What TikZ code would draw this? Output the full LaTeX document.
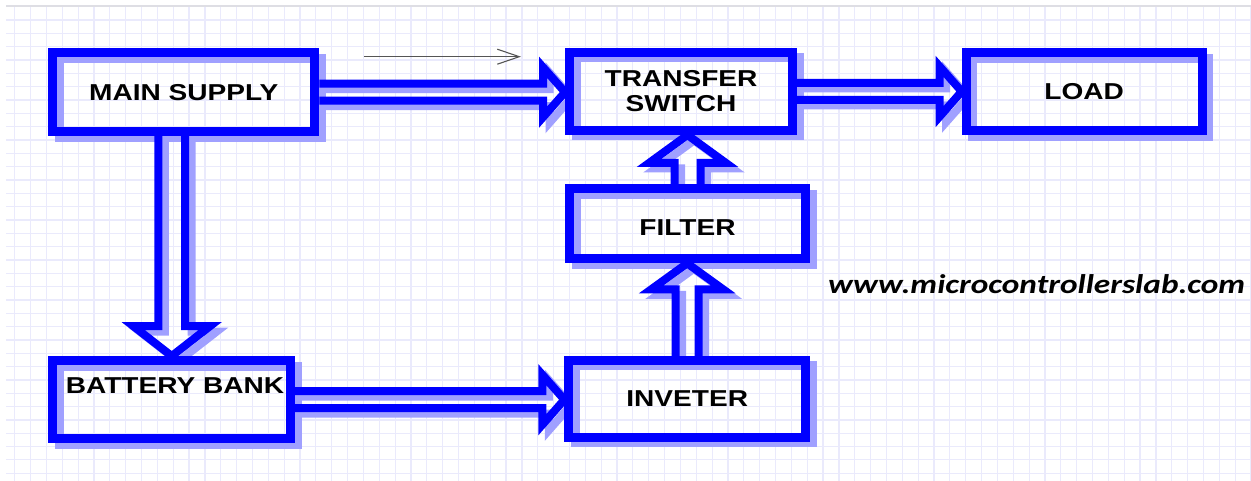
\documentclass[tikz,border=0pt]{standalone}
\usepackage{fontspec}
\usepackage{graphicx}
\setmainfont{Liberation Sans}
\newfontfamily\sitefont{Carlito}
\usetikzlibrary{calc,arrows.meta}

\pgfdeclarelayer{paper}
\pgfdeclarelayer{shade}
\pgfsetlayers{paper,shade,main}

\definecolor{boxblue}{RGB}{0,0,255}
\definecolor{shadeblue}{RGB}{160,160,255}
\definecolor{gridlav}{RGB}{234,234,252}
\definecolor{topgray}{RGB}{222,222,228}
\definecolor{hintgray}{RGB}{85,85,85}

\newcommand\labfont{\fontsize{23}{25}\selectfont\bfseries}
\newcommand\caps[1]{\scalebox{1.22}[1]{#1}}

\tikzset{
  block/.style={draw=boxblue, line width=9pt, inner sep=0pt, font=\labfont},
  textlab/.style={inner sep=0pt, font=\labfont},
  fatline/.style={draw=boxblue, line width=8pt, line join=miter, line cap=butt},
  boxshade/.style={draw=shadeblue, line width=9pt, transform canvas={xshift=6.5pt,yshift=-5.5pt}},
  gridrule/.style={draw=gridlav, line width=1.2pt},
  hintline/.style={draw=hintgray, line width=1.1pt, -{Straight Barb[length=22pt,width=15pt]}}
}

% hollow block arrow: outline of a shaft and a head, open at the tail
\newcommand\fatstroke[4]{%
  \draw[fatline,#4] ($(#1-s)!#2!90:(#1-e)$) -- ($(#1-b)!#2!90:(#1-e)$)
    -- ($(#1-b)!#3!90:(#1-e)$) -- (#1-e) -- ($(#1-b)!#3!-90:(#1-e)$)
    -- ($(#1-b)!#2!-90:(#1-e)$) -- ($(#1-s)!#2!-90:(#1-e)$);}
% #1 name, #2 from, #3 to, #4 shaft half width, #5 head half width, #6 head length
\newcommand\fatarrow[6]{%
  \coordinate (#1-s) at (#2);
  \coordinate (#1-e) at (#3);
  \coordinate (#1-b) at ($(#1-e)!#6!(#1-s)$);
  \begin{pgfonlayer}{shade}
    \fatstroke{#1}{#4}{#5}{draw=shadeblue,transform canvas={xshift=6.5pt,yshift=-5.5pt}}
  \end{pgfonlayer}
  \fatstroke{#1}{#4}{#5}{}}

\begin{document}
\begin{tikzpicture}[x=1pt,y=-1pt]
\useasboundingbox (0,0) rectangle (1251,481);

% graph paper
\begin{pgfonlayer}{paper}
  \fill[white] (0,0) rectangle (1251,481);
  \foreach \i in {0,...,78}
    \draw[gridrule] ({14.7+15.85*\i},6) -- ({14.7+15.85*\i},481);
  \foreach \j in {1,...,35}
    \draw[gridrule] (6,{6.67+13.33*\j}) -- (1251,{6.67+13.33*\j});
  \draw[draw=topgray, line width=2pt] (6,6) -- (1251,6);
\end{pgfonlayer}

% blocks
\node[block, minimum width=262pt, minimum height=78.7pt] (main) at (183.8,92.2) {\caps{MAIN SUPPLY}};
\node[block, minimum width=223pt, minimum height=78pt, align=center] (ts) at (681,91.5) {\caps{TRANSFER}\\\caps{SWITCH}};
\node[block, minimum width=236pt, minimum height=77.7pt] (load) at (1084.2,91.7) {\caps{LOAD}};
\node[block, minimum width=236pt, minimum height=70.3pt, text height=24.1pt] (filter) at (687.5,223.7) {\caps{FILTER}};
\node[block, minimum width=237.7pt, minimum height=78.3pt,
      label={[textlab, shift={(3.3,-14.2)}]center:\caps{BATTERY BANK}}] (bb) at (171.7,399.7) {};
\node[block, minimum width=236.7pt, minimum height=76.7pt] (inv) at (687.2,398.8) {\caps{INVETER}};

% block shadows
\begin{pgfonlayer}{shade}
  \foreach \n in {main,ts,load,filter,bb,inv}
    \draw[boxshade] ([shift={(4.5,4.5)}]\n.north west) rectangle ([shift={(-4.5,-4.5)}]\n.south east);
\end{pgfonlayer}

% connectors
\fatarrow{a1}{main.east}{main.east -| ts.west}{8.5pt}{25pt}{22pt}
\fatarrow{a2}{ts.east}{ts.east -| load.west}{8.5pt}{25pt}{22pt}
\fatarrow{a3}{main.south -| bb.north}{bb.north}{13.3pt}{38.5pt}{30pt}
\fatarrow{a4}{bb.east}{bb.east -| inv.west}{8.5pt}{25pt}{22pt}
\fatarrow{a5}{inv.north}{inv.north |- filter.south}{11.5pt}{36pt}{26pt}
\fatarrow{a6}{filter.north}{filter.north |- ts.south}{13pt}{38.5pt}{28pt}

% thin direction hint
\coordinate (hint-a) at (364,56.7);
\coordinate (hint-b) at (521,56.7);
\draw[hintline] (hint-a) -- (hint-b);

% site address
\node[anchor=base west, inner sep=0pt, font=\sitefont\fontsize{27}{30}\selectfont\bfseries\itshape]
  (site) at (828,293) {\resizebox{417pt}{\height}{www.microcontrollerslab.com}};
\end{tikzpicture}
\end{document}
